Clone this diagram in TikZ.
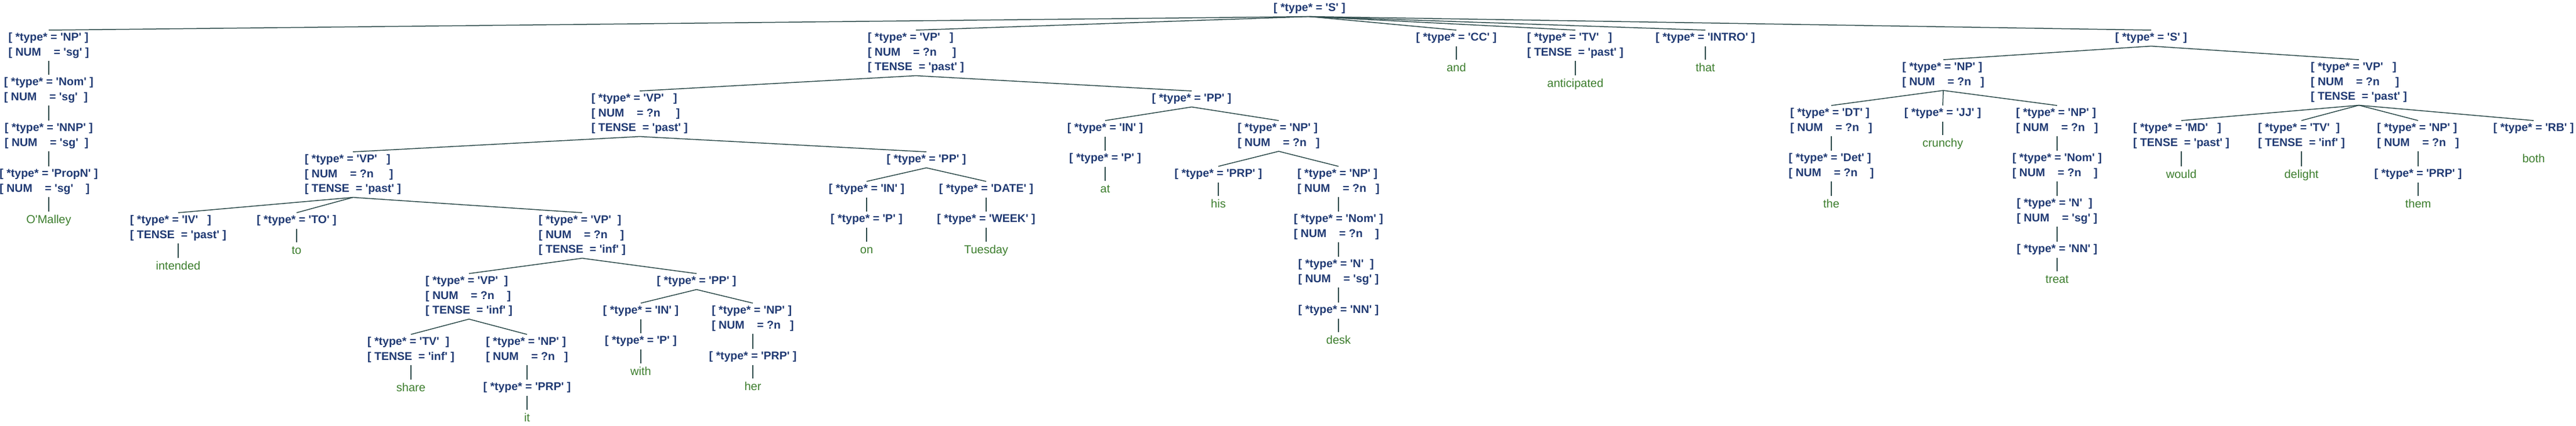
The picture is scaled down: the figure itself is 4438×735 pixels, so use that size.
\documentclass[tikz,border=0pt]{standalone}
\usepackage{fontspec}
\newfontfamily\labfont{Liberation Sans}[Ligatures=TeXOff]
\definecolor{labblue}{RGB}{32,58,115}
\definecolor{leafgreen}{RGB}{60,125,45}
\definecolor{edgegray}{RGB}{44,74,74}
\newcommand{\feat}[1]{[ #1 ]}
\newcommand{\lz}{\fontsize{19.5pt}{25.5pt}\selectfont}
\newcommand{\wz}{\fontsize{20pt}{24pt}\selectfont}

\begin{document}
\begin{tikzpicture}[x=1pt,y=-1pt,
  lab/.style={anchor=north,inner xsep=0pt,inner ysep=4.5pt,align=left,
              text=labblue,font=\labfont\bfseries\lz},
  leaf/.style={anchor=north,inner xsep=0pt,inner ysep=6.5pt,text height=14pt,
               text depth=4pt,text=leafgreen,font=\labfont\wz},
  branch/.style={draw=edgegray,line width=1.5pt}]
  \useasboundingbox (0,0) rectangle (4438,735);
  % root
  \node[lab] (s0)     at (2256,  1) {\feat{*type* = 'S'}};
  % subject
  \node[lab] (np0)    at (  84, 52) {\feat{*type* = 'NP'}\\\feat{NUM~~~ = 'sg'}};
  \node[lab] (nom0)   at (  84,129) {\feat{*type* = 'Nom'}\\\feat{NUM~~~ = 'sg'~}};
  \node[lab] (nnp0)   at (  84,208) {\feat{*type* = 'NNP'}\\\feat{NUM~~~ = 'sg'~}};
  \node[lab] (propn0) at (  84,287) {\feat{*type* = 'PropN'}\\\feat{NUM~~~ = 'sg'~~~}};
  \node[leaf] (t-omalley) at (84,365) {O'Malley};
  % main verb phrase
  \node[lab] (vp1)    at (1578, 52) {\feat{*type* = 'VP'~~}\\\feat{NUM~~~ = ?n~~~~}\\\feat{TENSE~ = 'past'}};
  \node[lab] (vp2)    at (1102,157) {\feat{*type* = 'VP'~~}\\\feat{NUM~~~ = ?n~~~~}\\\feat{TENSE~ = 'past'}};
  \node[lab] (vp3)    at ( 608,262) {\feat{*type* = 'VP'~~}\\\feat{NUM~~~ = ?n~~~~}\\\feat{TENSE~ = 'past'}};
  \node[lab] (iv)     at ( 307,367) {\feat{*type* = 'IV'~~}\\\feat{TENSE~ = 'past'}};
  \node[leaf] (t-intended) at (307,445) {intended};
  \node[lab] (to)     at ( 511,367) {\feat{*type* = 'TO'}};
  \node[leaf] (t-to)  at ( 511,418) {to};
  \node[lab] (vp4)    at (1003,367) {\feat{*type* = 'VP'~}\\\feat{NUM~~~ = ?n~~~}\\\feat{TENSE~ = 'inf'}};
  \node[lab] (vp5)    at ( 808,472) {\feat{*type* = 'VP'~}\\\feat{NUM~~~ = ?n~~~}\\\feat{TENSE~ = 'inf'}};
  \node[lab] (tv1)    at ( 708,577) {\feat{*type* = 'TV'~}\\\feat{TENSE~ = 'inf'}};
  \node[leaf] (t-share) at (708,655) {share};
  \node[lab] (np1)    at ( 908,577) {\feat{*type* = 'NP'}\\\feat{NUM~~~ = ?n~~}};
  \node[lab] (prp1)   at ( 908,655) {\feat{*type* = 'PRP'}};
  \node[leaf] (t-it)  at ( 908,707) {it};
  \node[lab] (pp3)    at (1200,472) {\feat{*type* = 'PP'}};
  \node[lab] (in1)    at (1104,523) {\feat{*type* = 'IN'}};
  \node[lab] (p1)     at (1104,575) {\feat{*type* = 'P'}};
  \node[leaf] (t-with) at (1104,627) {with};
  \node[lab] (np2)    at (1297,523) {\feat{*type* = 'NP'}\\\feat{NUM~~~ = ?n~~}};
  \node[lab] (prp2)   at (1297,602) {\feat{*type* = 'PRP'}};
  \node[leaf] (t-her) at (1297,653) {her};
  \node[lab] (pp2)    at (1596,262) {\feat{*type* = 'PP'}};
  \node[lab] (in2)    at (1493,313) {\feat{*type* = 'IN'}};
  \node[lab] (p2)     at (1493,365) {\feat{*type* = 'P'}};
  \node[leaf] (t-on)  at (1493,417) {on};
  \node[lab] (date)   at (1699,313) {\feat{*type* = 'DATE'}};
  \node[lab] (week)   at (1699,365) {\feat{*type* = 'WEEK'}};
  \node[leaf] (t-tuesday) at (1699,417) {Tuesday};
  \node[lab] (pp1)    at (2053,157) {\feat{*type* = 'PP'}};
  \node[lab] (in3)    at (1904,208) {\feat{*type* = 'IN'}};
  \node[lab] (p3)     at (1904,260) {\feat{*type* = 'P'}};
  \node[leaf] (t-at)  at (1904,312) {at};
  \node[lab] (np3)    at (2203,208) {\feat{*type* = 'NP'}\\\feat{NUM~~~ = ?n~~}};
  \node[lab] (prp3)   at (2099,287) {\feat{*type* = 'PRP'}};
  \node[leaf] (t-his) at (2099,338) {his};
  \node[lab] (np4)    at (2306,287) {\feat{*type* = 'NP'}\\\feat{NUM~~~ = ?n~~}};
  \node[lab] (nom1)   at (2306,365) {\feat{*type* = 'Nom'}\\\feat{NUM~~~ = ?n~~~}};
  \node[lab] (n1)     at (2306,443) {\feat{*type* = 'N'~}\\\feat{NUM~~~ = 'sg'}};
  \node[lab] (nn1)    at (2306,522) {\feat{*type* = 'NN'}};
  \node[leaf] (t-desk) at (2306,573) {desk};
  % conjunction and second clause
  \node[lab] (cc)     at (2509, 52) {\feat{*type* = 'CC'}};
  \node[leaf] (t-and) at (2509,103) {and};
  \node[lab] (tv0)    at (2714, 52) {\feat{*type* = 'TV'~~}\\\feat{TENSE~ = 'past'}};
  \node[leaf] (t-anticipated) at (2714,130) {anticipated};
  \node[lab] (intro)  at (2938, 52) {\feat{*type* = 'INTRO'}};
  \node[leaf] (t-that) at (2938,103) {that};
  \node[lab] (s1)     at (3706, 52) {\feat{*type* = 'S'}};
  \node[lab] (np5)    at (3348,103) {\feat{*type* = 'NP'}\\\feat{NUM~~~ = ?n~~}};
  \node[lab] (dt)     at (3155,182) {\feat{*type* = 'DT'}\\\feat{NUM~~~ = ?n~~}};
  \node[lab] (det)    at (3155,260) {\feat{*type* = 'Det'}\\\feat{NUM~~~ = ?n~~~}};
  \node[leaf] (t-the) at (3155,338) {the};
  \node[lab] (jj)     at (3347,182) {\feat{*type* = 'JJ'}};
  \node[leaf] (t-crunchy) at (3347,233) {crunchy};
  \node[lab] (np6)    at (3544,182) {\feat{*type* = 'NP'}\\\feat{NUM~~~ = ?n~~}};
  \node[lab] (nom2)   at (3544,260) {\feat{*type* = 'Nom'}\\\feat{NUM~~~ = ?n~~~}};
  \node[lab] (n2)     at (3544,338) {\feat{*type* = 'N'~}\\\feat{NUM~~~ = 'sg'}};
  \node[lab] (nn2)    at (3544,417) {\feat{*type* = 'NN'}};
  \node[leaf] (t-treat) at (3544,468) {treat};
  \node[lab] (vp6)    at (4064,103) {\feat{*type* = 'VP'~~}\\\feat{NUM~~~ = ?n~~~~}\\\feat{TENSE~ = 'past'}};
  \node[lab] (md)     at (3758,208) {\feat{*type* = 'MD'~~}\\\feat{TENSE~ = 'past'}};
  \node[leaf] (t-would) at (3758,287) {would};
  \node[lab] (tv2)    at (3965,208) {\feat{*type* = 'TV'~}\\\feat{TENSE~ = 'inf'}};
  \node[leaf] (t-delight) at (3965,287) {delight};
  \node[lab] (np7)    at (4166,208) {\feat{*type* = 'NP'}\\\feat{NUM~~~ = ?n~~}};
  \node[lab] (prp4)   at (4166,287) {\feat{*type* = 'PRP'}};
  \node[leaf] (t-them) at (4166,338) {them};
  \node[lab] (rb)     at (4365,208) {\feat{*type* = 'RB'}};
  \node[leaf] (t-both) at (4365,260) {both};
  % branches
  \draw[branch] (s0.south) -- (np0.north);
  \draw[branch] (s0.south) -- (vp1.north);
  \draw[branch] (s0.south) -- (cc.north);
  \draw[branch] (s0.south) -- (tv0.north);
  \draw[branch] (s0.south) -- (intro.north);
  \draw[branch] (s0.south) -- (s1.north);
  \draw[branch] (np0.south) -- (nom0.north);
  \draw[branch] (nom0.south) -- (nnp0.north);
  \draw[branch] (nnp0.south) -- (propn0.north);
  \draw[branch] (propn0.south) -- (t-omalley.north);
  \draw[branch] (vp1.south) -- (vp2.north);
  \draw[branch] (vp1.south) -- (pp1.north);
  \draw[branch] (vp2.south) -- (vp3.north);
  \draw[branch] (vp2.south) -- (pp2.north);
  \draw[branch] (vp3.south) -- (iv.north);
  \draw[branch] (vp3.south) -- (to.north);
  \draw[branch] (vp3.south) -- (vp4.north);
  \draw[branch] (iv.south) -- (t-intended.north);
  \draw[branch] (to.south) -- (t-to.north);
  \draw[branch] (vp4.south) -- (vp5.north);
  \draw[branch] (vp4.south) -- (pp3.north);
  \draw[branch] (vp5.south) -- (tv1.north);
  \draw[branch] (vp5.south) -- (np1.north);
  \draw[branch] (tv1.south) -- (t-share.north);
  \draw[branch] (np1.south) -- (prp1.north);
  \draw[branch] (prp1.south) -- (t-it.north);
  \draw[branch] (pp3.south) -- (in1.north);
  \draw[branch] (pp3.south) -- (np2.north);
  \draw[branch] (in1.south) -- (p1.north);
  \draw[branch] (p1.south) -- (t-with.north);
  \draw[branch] (np2.south) -- (prp2.north);
  \draw[branch] (prp2.south) -- (t-her.north);
  \draw[branch] (pp2.south) -- (in2.north);
  \draw[branch] (pp2.south) -- (date.north);
  \draw[branch] (in2.south) -- (p2.north);
  \draw[branch] (p2.south) -- (t-on.north);
  \draw[branch] (date.south) -- (week.north);
  \draw[branch] (week.south) -- (t-tuesday.north);
  \draw[branch] (pp1.south) -- (in3.north);
  \draw[branch] (pp1.south) -- (np3.north);
  \draw[branch] (in3.south) -- (p3.north);
  \draw[branch] (p3.south) -- (t-at.north);
  \draw[branch] (np3.south) -- (prp3.north);
  \draw[branch] (np3.south) -- (np4.north);
  \draw[branch] (prp3.south) -- (t-his.north);
  \draw[branch] (np4.south) -- (nom1.north);
  \draw[branch] (nom1.south) -- (n1.north);
  \draw[branch] (n1.south) -- (nn1.north);
  \draw[branch] (nn1.south) -- (t-desk.north);
  \draw[branch] (cc.south) -- (t-and.north);
  \draw[branch] (tv0.south) -- (t-anticipated.north);
  \draw[branch] (intro.south) -- (t-that.north);
  \draw[branch] (s1.south) -- (np5.north);
  \draw[branch] (s1.south) -- (vp6.north);
  \draw[branch] (np5.south) -- (dt.north);
  \draw[branch] (np5.south) -- (jj.north);
  \draw[branch] (np5.south) -- (np6.north);
  \draw[branch] (dt.south) -- (det.north);
  \draw[branch] (det.south) -- (t-the.north);
  \draw[branch] (jj.south) -- (t-crunchy.north);
  \draw[branch] (np6.south) -- (nom2.north);
  \draw[branch] (nom2.south) -- (n2.north);
  \draw[branch] (n2.south) -- (nn2.north);
  \draw[branch] (nn2.south) -- (t-treat.north);
  \draw[branch] (vp6.south) -- (md.north);
  \draw[branch] (vp6.south) -- (tv2.north);
  \draw[branch] (vp6.south) -- (np7.north);
  \draw[branch] (vp6.south) -- (rb.north);
  \draw[branch] (md.south) -- (t-would.north);
  \draw[branch] (tv2.south) -- (t-delight.north);
  \draw[branch] (np7.south) -- (prp4.north);
  \draw[branch] (prp4.south) -- (t-them.north);
\end{tikzpicture}
\end{document}
